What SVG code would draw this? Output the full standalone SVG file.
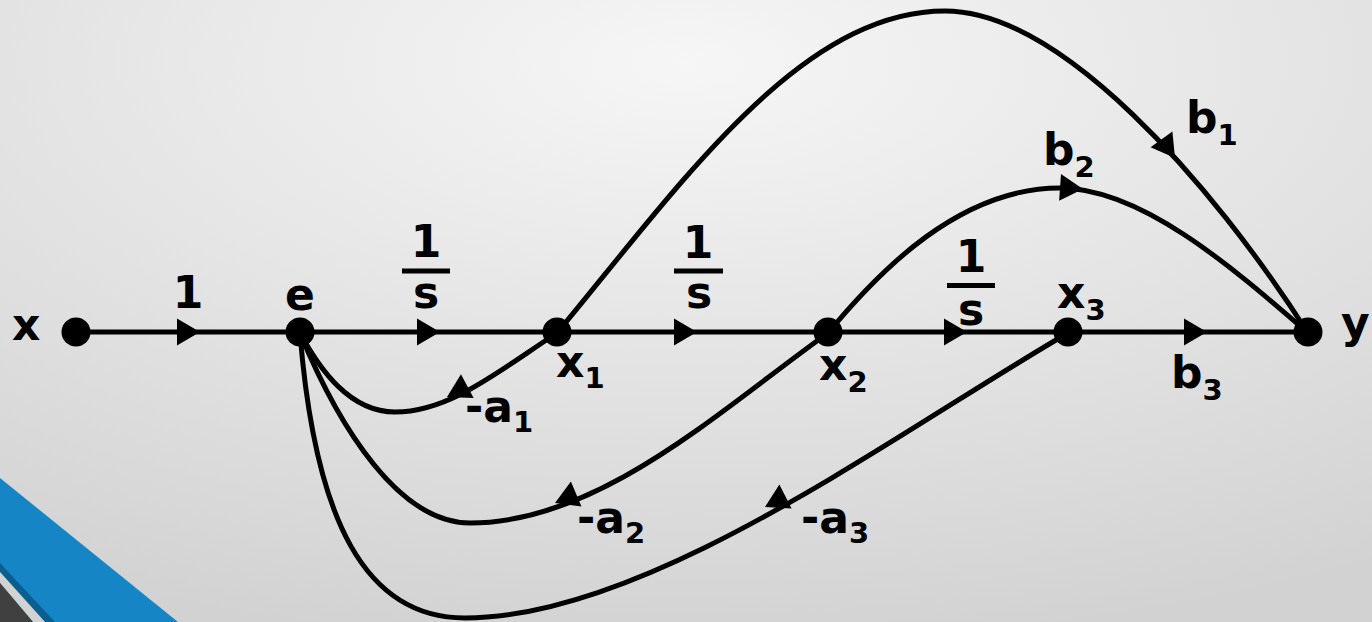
<svg xmlns="http://www.w3.org/2000/svg" xmlns:xlink="http://www.w3.org/1999/xlink" width="1372" height="622" viewBox="0 0 1372 622">
  <defs>
    <radialGradient id="bg" cx="50%" cy="10%" r="95%" fx="50%" fy="10%">
      <stop offset="0" stop-color="#f6f6f6"/>
      <stop offset="1" stop-color="#d2d2d2"/>
    </radialGradient>
    <path id="ah" d="M0,0 L-23,-13.5 L-23,13.5 Z" fill="#000"/>
    <style>
      .edge { fill: none; stroke: #000; stroke-width: 5; }
      .node { fill: #000; }
      .lbl { font-family: "DejaVu Sans", Verdana, sans-serif; font-weight: bold; font-size: 44px; fill: #000; }
      .sub { font-size: 29px; }
      .bar { fill: #000; }
    </style>
  </defs>

  <rect width="1372" height="622" fill="url(#bg)"/>
  <g id="corner">
    <polygon points="0,478 178,622 0,622" fill="#1585c5"/>
    <polygon points="0,563 55,622 45,622 0,572" fill="#0b5f8f"/>
    <polygon points="0,572 45,622 33,622 0,583" fill="#d2d2d2"/>
    <polygon points="0,583 33,622 0,622" fill="#404040"/>
  </g>

  <g id="connectors">
    <line class="edge" x1="76" y1="332" x2="1308" y2="332"/>
    <path class="edge" d="M557,333 C680,185 800,11 945,11 C1060,11 1210,180 1308,333"/>
    <path class="edge" d="M828,333 C880,270 960,188 1060,188 C1140,188 1230,265 1308,333"/>
    <path class="edge" d="M557,333 C500,370 450,412 395,412 C350,412 320,370 300,333"/>
    <path class="edge" d="M828,333 C720,410 600,523 470,523 C400,523 340,430 300,333"/>
    <path class="edge" d="M1068,333 C900,430 650,618 465,618 C365,618 315,520 300,333"/>
    <use xlink:href="#ah" transform="translate(200,332)"/>
    <use xlink:href="#ah" transform="translate(440,332)"/>
    <use xlink:href="#ah" transform="translate(697,332)"/>
    <use xlink:href="#ah" transform="translate(967,332)"/>
    <use xlink:href="#ah" transform="translate(1207,332)"/>
    <use xlink:href="#ah" transform="translate(1175,158) rotate(54)"/>
    <use xlink:href="#ah" transform="translate(1083,189) rotate(4)"/>
    <use xlink:href="#ah" transform="translate(447,397) rotate(152)"/>
    <use xlink:href="#ah" transform="translate(555,503) rotate(157)"/>
    <use xlink:href="#ah" transform="translate(765,507) rotate(153)"/>
  </g>

  <g id="node-x">
    <circle class="node" cx="76" cy="332" r="14.5"/>
    <text class="lbl" x="12" y="340">x</text>
  </g>
  <g id="node-e">
    <circle class="node" cx="300" cy="332" r="14.5"/>
    <text class="lbl" x="300" y="310" text-anchor="middle">e</text>
  </g>
  <g id="node-x1">
    <circle class="node" cx="557" cy="332" r="14.5"/>
    <text class="lbl" x="556" y="377">x<tspan class="sub" dy="11">1</tspan></text>
  </g>
  <g id="node-x2">
    <circle class="node" cx="828" cy="332" r="14.5"/>
    <text class="lbl" x="819" y="380">x<tspan class="sub" dy="12">2</tspan></text>
  </g>
  <g id="node-x3">
    <circle class="node" cx="1068" cy="332" r="14.5"/>
    <text class="lbl" x="1057" y="308">x<tspan class="sub" dy="12">3</tspan></text>
  </g>
  <g id="node-y">
    <circle class="node" cx="1308" cy="332" r="14.5"/>
    <text class="lbl" x="1341" y="338">y</text>
  </g>

  <g id="labels">
    <text class="lbl" x="188" y="308" text-anchor="middle">1</text>
    <text class="lbl" x="426" y="257" text-anchor="middle">1</text>
    <rect class="bar" x="402" y="268.5" width="48" height="5"/>
    <text class="lbl" x="426" y="308" text-anchor="middle">s</text>
    <text class="lbl" x="698" y="258" text-anchor="middle">1</text>
    <rect class="bar" x="674" y="268.5" width="49" height="5"/>
    <text class="lbl" x="699" y="308" text-anchor="middle">s</text>
    <text class="lbl" x="971" y="272" text-anchor="middle">1</text>
    <rect class="bar" x="947" y="283" width="48" height="5"/>
    <text class="lbl" x="971" y="325" text-anchor="middle">s</text>
    <text class="lbl" x="1186" y="133">b<tspan class="sub" dy="12">1</tspan></text>
    <text class="lbl" x="1043" y="165">b<tspan class="sub" dy="12">2</tspan></text>
    <text class="lbl" x="1171" y="388">b<tspan class="sub" dy="12">3</tspan></text>
    <text class="lbl" x="465" y="422">-a<tspan class="sub" dy="10">1</tspan></text>
    <text class="lbl" x="577" y="533">-a<tspan class="sub" dy="10">2</tspan></text>
    <text class="lbl" x="801" y="533">-a<tspan class="sub" dy="10">3</tspan></text>
  </g>
</svg>
